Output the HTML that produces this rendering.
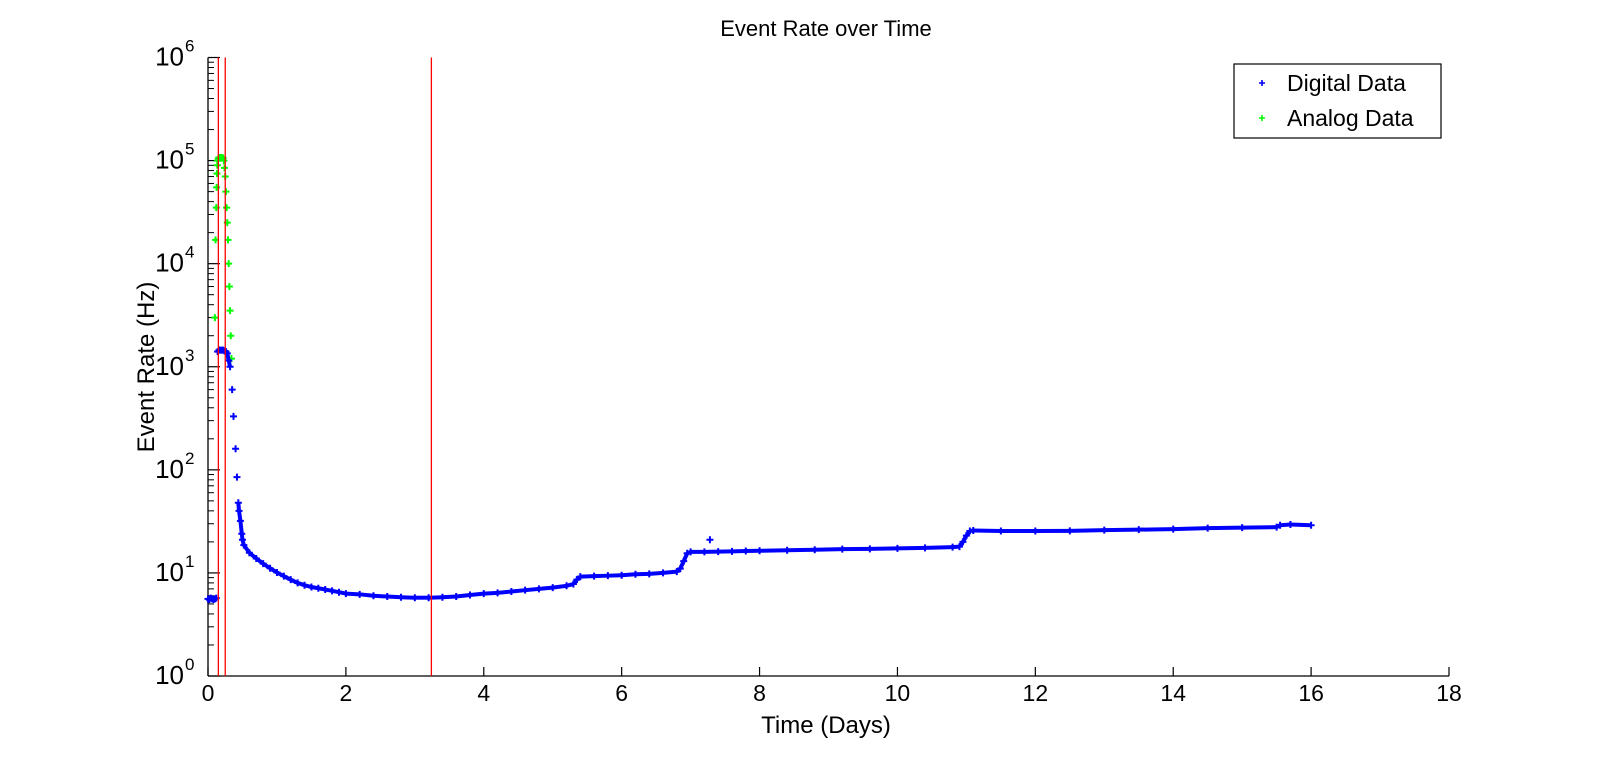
<!DOCTYPE html>
<html><head><meta charset="utf-8"><style>
body{margin:0;background:#fff;}
svg{display:block;font-family:"Liberation Sans",Arial,sans-serif;}
</style></head><body>
<svg id="chart" width="1600" height="760" viewBox="0 0 1600 760" xmlns="http://www.w3.org/2000/svg">
<text x="826" y="36" font-size="22" text-anchor="middle">Event Rate over Time</text>
<text x="826" y="733" font-size="24" text-anchor="middle">Time (Days)</text>
<text transform="translate(154,367) rotate(-90)" font-size="24" text-anchor="middle">Event Rate (Hz)</text>
<g id="axes"></g>
<g id="marks"></g>
<g>
<rect x="1234" y="64" width="207" height="74" fill="#fff" stroke="#000" stroke-width="1.2"/>
<g>
<path d="M1259 83h6M1262 80v6" stroke="#0000ff" stroke-width="1.6"/>
<text x="1287" y="91" font-size="23">Digital Data</text></g>
<g>
<path d="M1259 118h6M1262 115v6" stroke="#00ff00" stroke-width="1.6"/>
<text x="1287" y="126" font-size="23">Analog Data</text></g>
</g>
</svg>
<script>
const xTicks=[0,2,4,6,8,10,12,14,16,18];
const yDecades=[0,1,2,3,4,5,6];
const redLines=[0.15,0.25,3.24];
const digitalDays=[0,0.02,0.04,0.06,0.08,0.10,0.12,
0.14,0.16,0.18,0.20,0.22,0.24,0.26,0.28,0.30,0.32,0.35,0.37,0.40,0.42,0.44,0.45,0.47,0.49,0.5,0.52,
0.6,0.7,0.8,0.9,1.0,1.1,1.2,1.3,1.4,1.5,1.6,1.7,1.8,1.9,2.0,2.2,2.4,2.6,2.8,3.0,3.2,3.4,3.6,3.8,4.0,4.2,4.4,4.6,4.8,5.0,5.2,5.3,5.35,5.4,5.6,5.8,6.0,6.2,6.4,6.6,6.8,6.85,6.9,6.95,7.0,7.2,7.4,7.6,7.8,8.0,8.4,8.8,9.2,9.6,10.0,10.4,10.8,10.9,10.95,11.0,11.05,11.1,11.5,12,12.5,13,13.5,14,14.5,15,15.5,15.55,15.7,16.0];
const digitalRates=[5.6,5.5,5.7,5.6,5.5,5.6,5.7,
1400,1450,1450,1450,1450,1420,1400,1350,1150,1000,600,330,160,85,48,40,32,24,21,18.6,
15.7,13.8,12.3,11.1,10.1,9.3,8.6,8.0,7.6,7.3,7.1,6.9,6.7,6.5,6.3,6.2,6.0,5.9,5.8,5.75,5.75,5.8,5.9,6.1,6.3,6.4,6.6,6.8,7.0,7.2,7.5,7.8,8.6,9.2,9.3,9.4,9.5,9.7,9.8,10.0,10.3,11,13,15.5,16.0,16.0,16.1,16.2,16.3,16.4,16.6,16.8,17.0,17.1,17.3,17.5,17.8,18.0,20,23,25.5,25.8,25.5,25.5,25.6,26,26.3,26.6,27.2,27.5,27.8,29,29.5,29];
const outlierDays=[7.28];
const outlierRates=[21];
const analogDays=[0.10,0.11,0.12,0.125,0.13,0.135,0.14,0.15,0.16,0.18,0.20,0.22,0.23,0.24,0.25,0.26,0.27,0.28,0.29,0.30,0.31,0.32,0.33,0.34];
const analogRates=[3000,17000,35000,55000,75000,90000,100000,105000,107000,107000,107000,106000,100000,85000,70000,50000,35000,25000,17000,10000,6000,3500,2000,1200];

const X0=208,X1=1449,Y0=676,Y1=57.5,XMAX=18,DEC=6;
const sx=d=>X0+d/XMAX*(X1-X0);
const sy=v=>Y0-Math.log10(v)/DEC*(Y0-Y1);
const NS='http://www.w3.org/2000/svg';
function mk(tag,attrs,parent){const e=document.createElementNS(NS,tag);for(const k in attrs)e.setAttribute(k,attrs[k]);parent.appendChild(e);return e;}
const axes=document.getElementById('axes'),marks=document.getElementById('marks');

let el=mk('line',{x1:X0,y1:Y0,x2:X1,y2:Y0,stroke:'#000','stroke-width':1.3},axes);


el=mk('line',{x1:X0,y1:Y0,x2:X0,y2:Y1,stroke:'#000','stroke-width':1.3},axes);



xTicks.forEach(t=>{
 const x=sx(t);
 const tk=mk('line',{x1:x,y1:Y0,x2:x,y2:Y0-9,stroke:'#000','stroke-width':1.2},axes);
 
 
 const lb=mk('text',{x:x,y:Y0+25,'font-size':23,'text-anchor':'middle'},axes);
 lb.textContent=t;
 
 
});
yDecades.forEach(k=>{
 const y=sy(Math.pow(10,k));
 const tk=mk('line',{x1:X0,y1:y,x2:X0+12,y2:y,stroke:'#000','stroke-width':1.2},axes);
 
 
 const lb=mk('text',{x:X0-24,y:y+8,'font-size':26,'text-anchor':'end'},axes);
 lb.textContent='10';
 
 
 const sp=mk('text',{x:X0-23,y:y-6,'font-size':17,'text-anchor':'start'},axes);
 sp.textContent=k;
 
 
 if(k<DEC){for(let m=2;m<=9;m++){
  const yy=sy(m*Math.pow(10,k));
  const mt=mk('line',{x1:X0,y1:yy,x2:X0+6,y2:yy,stroke:'#000','stroke-width':1},axes);
  
  
 }}
});

function series(days,rates,color,name,connect){
 const g=mk('g',{},marks);
 
 
 if(connect){
  for(let i=1;i<days.length;i++){
   const r=rates[i]/rates[i-1];
   if(r<1.6&&r>1/1.6&&days[i]-days[i-1]<0.6){
    const s=mk('line',{x1:sx(days[i-1]),y1:sy(rates[i-1]),x2:sx(days[i]),y2:sy(rates[i]),stroke:color,'stroke-width':4},g);
    
    
   }
  }
 }
 days.forEach((d,i)=>{
  const x=sx(d),y=sy(rates[i]);
  const p=mk('path',{d:`M${x-3.5} ${y}h7M${x} ${y-3.5}v7`,stroke:color,'stroke-width':2},g);
  
  
 });
}
series(analogDays,analogRates,'#00ff00','analog-series',false);
series(digitalDays,digitalRates,'#0000ff','digital-series',true);
series(outlierDays,outlierRates,'#0000ff','digital-outlier',false);

redLines.forEach(d=>{
 const l=mk('line',{x1:sx(d),y1:Y1,x2:sx(d),y2:Y0,stroke:'#ff0000','stroke-width':1.3},marks);
 
 
});
</script>
</body></html>
